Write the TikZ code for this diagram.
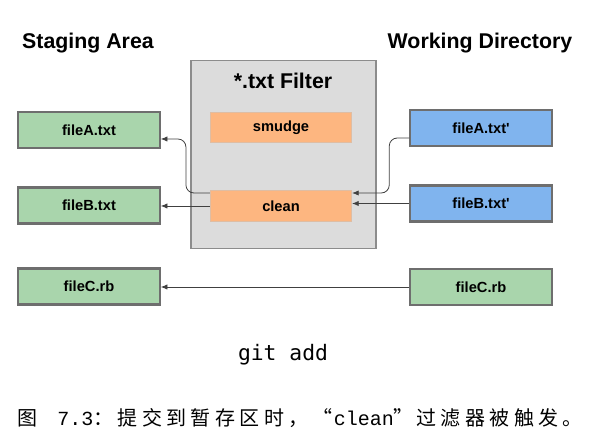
\documentclass[tikz,border=0pt]{standalone}
\usepackage{fontspec}
\setmainfont{Liberation Sans}
\newfontfamily\cjkfont[LetterSpace=22]{Noto Sans CJK SC}
\newfontfamily\capmono{Liberation Mono}
\newfontfamily\cmdmono{DejaVu Sans Mono}
\usepackage{tikz}
\usetikzlibrary{arrows.meta}

\definecolor{stagegreen}{HTML}{A9D5AC}
\definecolor{workblue}{HTML}{80B4EE}
\definecolor{filterorange}{HTML}{FDB680}
\definecolor{filtergray}{HTML}{DCDCDC}
\definecolor{boxedge}{HTML}{6E6E6E}

\begin{document}
\begin{tikzpicture}[x=0.75pt, y=-0.75pt,
    filebox/.style={draw=boxedge, line width=1.6pt, minimum width=106pt, minimum height=27pt,
        inner sep=0pt, font=\bfseries\fontsize{11}{13}\selectfont},
    staged/.style={filebox, fill=stagegreen},
    working/.style={filebox, fill=workblue},
    filterstep/.style={draw=filterorange!80!black!60, line width=0.6pt, fill=filterorange,
        minimum width=106pt, minimum height=23pt, inner sep=0pt,
        font=\bfseries\fontsize{11}{13}\selectfont},
    areatitle/.style={font=\bfseries\fontsize{16}{19}\selectfont},
    flow/.style={-{Latex[length=5pt,width=4pt]}, line width=0.6pt, draw=black!75}]
        \useasboundingbox (0,0) rectangle (589,448);

        % titles
        \node [areatitle] (staging) at (88,43) {Staging Area};
        \node [areatitle] (working) at (480,43) {Working Directory};

        % the filter
        \node [draw=black!45, line width=1.2pt, fill=filtergray, minimum width=139pt,
            minimum height=141pt, inner sep=0pt] (filter) at (283.5,154.5) {};
        \node [areatitle] (filtertitle) at (283,81) {*.txt Filter};
        \node [filterstep] (smudge) at (281,127.5) {smudge};
        \node [filterstep] (clean) at (281,206) {clean};

        % staging area
        \node [staged] (stageA) at (89,130) {fileA.txt};
        \node [staged] (stageB) at (89,205.5) {fileB.txt};
        \node [staged] (stageC) at (89,286.5) {fileC.rb};

        % working directory
        \node [working] (workA) at (481,128) {fileA.txt\textquotesingle};
        \node [working] (workB) at (481,203.5) {fileB.txt\textquotesingle};
        \node [staged] (workC) at (481,287) {fileC.rb};

        \draw [flow, rounded corners=6pt] ([shift={(0,10)}]workA.west) -- ++(-20,0)
            |- ([shift={(0,-13)}]clean.east);
        \draw [flow] (workB.west) -- (workB.west -| clean.east);
        \draw [flow, rounded corners=6pt] ([shift={(0,-13)}]clean.west) -- ++(-24,0)
            |- ([shift={(0,9)}]stageA.east);
        \draw [flow] (clean.west) -- (clean.west -| stageB.east);
        \draw [flow] (workC.west) -- (workC.west -| stageC.east);

        \node [font=\cmdmono\fontsize{16}{19}\selectfont] (gitadd) at (283,355) {git add};
        \node [font=\cjkfont\fontsize{15}{18}\selectfont, inner sep=0pt, anchor=west] (caption) at (17,418)
            {图\hspace{15pt}{\capmono 7.3}：提交到暂存区时，\hspace{3pt}“\hspace{1pt}{\capmono clean}”\hspace{2pt}过滤器被触发。};
\end{tikzpicture}
\end{document}
